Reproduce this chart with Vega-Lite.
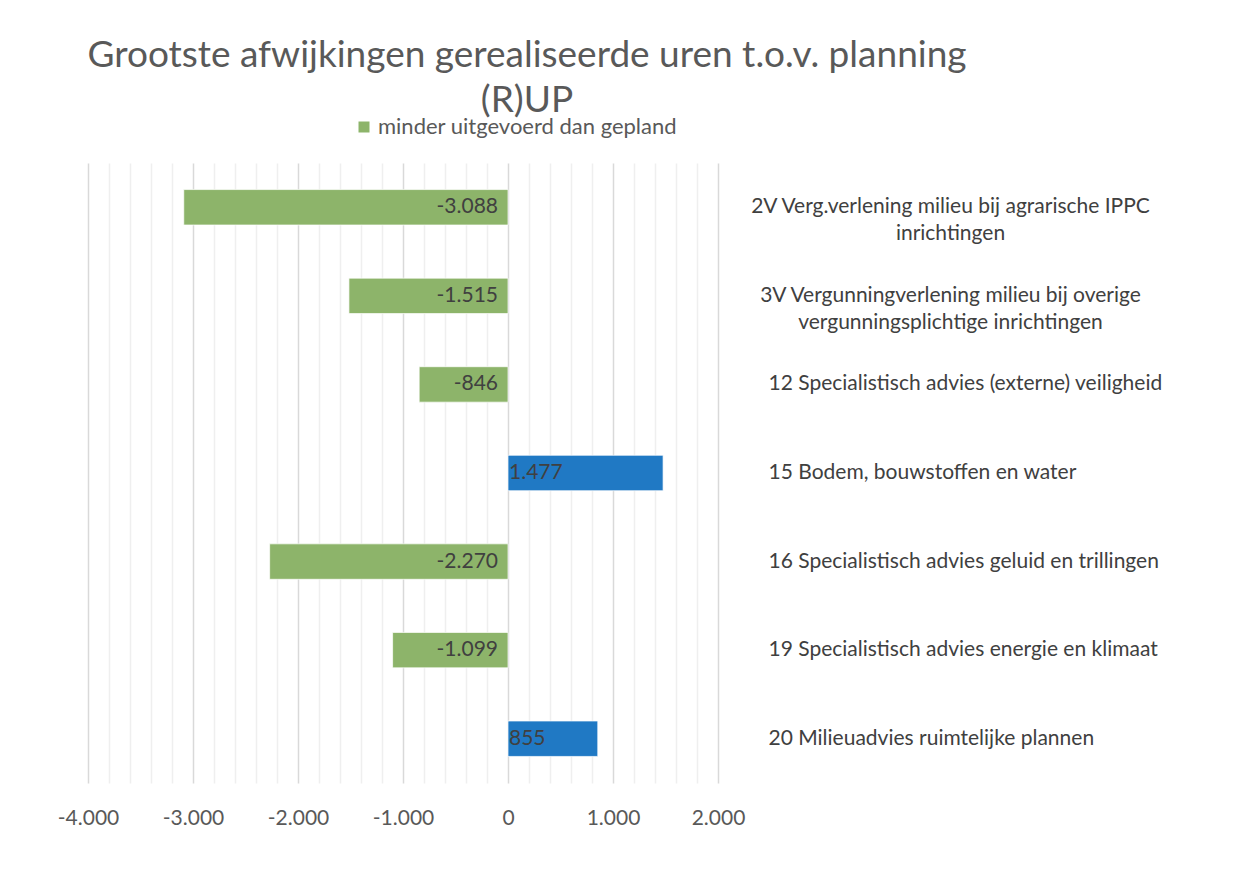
{
  "$schema": "https://vega.github.io/schema/vega-lite/v6.json",
  "autosize": {"type": "none"},
  "width": 630,
  "height": 620,
  "padding": {"left": 88, "top": 163, "right": 539, "bottom": 98},
  "background": "white",
  "config": {
    "locale": {"number": {"decimal": ",", "thousands": ".", "grouping": [3], "currency": ["€", ""], "minus": "-"}},
    "view": {"stroke": null},
    "font": "Lato"
  },
  "title": {
    "text": ["Grootste afwijkingen gerealiseerde uren t.o.v. planning", "(R)UP"],
    "fontSize": 37,
    "fontWeight": "normal",
    "color": "#595959",
    "font": "Lato",
    "lineHeight": 45,
    "anchor": "middle",
    "dx": 124,
    "offset": -4
  },
  "data": {
    "values": [
      {"taak": "2V Verg.verlening milieu bij agrarische IPPC|inrichtingen", "uren": -3088, "reeks": "minder uitgevoerd dan gepland"},
      {"taak": "3V Vergunningverlening milieu bij overige|vergunningsplichtige inrichtingen", "uren": -1515, "reeks": "minder uitgevoerd dan gepland"},
      {"taak": "12 Specialistisch advies (externe) veiligheid", "uren": -846, "reeks": "minder uitgevoerd dan gepland"},
      {"taak": "15 Bodem, bouwstoffen en water", "uren": 1477, "reeks": "meer uitgevoerd dan gepland"},
      {"taak": "16 Specialistisch advies geluid en trillingen", "uren": -2270, "reeks": "minder uitgevoerd dan gepland"},
      {"taak": "19 Specialistisch advies energie en klimaat", "uren": -1099, "reeks": "minder uitgevoerd dan gepland"},
      {"taak": "20 Milieuadvies ruimtelijke plannen", "uren": 855, "reeks": "meer uitgevoerd dan gepland"}
    ]
  },
  "encoding": {
    "y": {
      "field": "taak",
      "type": "nominal",
      "sort": null,
      "scale": {"paddingInner": 0.6, "paddingOuter": 0.3},
      "axis": {
        "orient": "right",
        "title": null,
        "ticks": false,
        "domain": false,
        "grid": false,
        "labelAlign": {"condition": {"test": "indexof(datum.value, '|') >= 0", "value": "center"}, "value": "left"},
        "labelPadding": {"condition": {"test": "indexof(datum.value, '|') >= 0", "value": 232}, "value": 50},
        "labelBaseline": "middle",
        "labelFontSize": 21,
        "labelLineHeight": 27,
        "labelColor": "#404040",
        "labelLimit": 0,
        "labelFont": "Lato",
        "labelExpr": "split(datum.label, '|')"
      }
    }
  },
  "layer": [
    {
      "mark": {"type": "bar", "stroke": "#ffffff", "strokeWidth": 1, "strokeOpacity": 0.7},
      "encoding": {
        "x": {
          "field": "uren",
          "type": "quantitative",
          "scale": {"domain": [-4000, 2000], "nice": false, "zero": false},
          "axis": {
            "title": null,
            "values": [-4000, -3800, -3600, -3400, -3200, -3000, -2800, -2600, -2400, -2200, -2000, -1800, -1600, -1400, -1200, -1000, -800, -600, -400, -200, 0, 200, 400, 600, 800, 1000, 1200, 1400, 1600, 1800, 2000],
            "tickCount": 40,
            "format": ",d",
            "labelExpr": "datum.value % 1000 === 0 ? datum.label : ''",
            "labelOverlap": false,
            "labelFlush": false,
            "ticks": false,
            "domain": false,
            "grid": true,
            "gridColor": {"condition": {"test": "datum.value % 1000 === 0", "value": "#d9d9d9"}, "value": "#efefef"},
            "gridWidth": 1.5,
            "labelFontSize": 21,
            "labelColor": "#595959",
            "labelPadding": 24,
            "labelFont": "Lato"
          }
        },
        "color": {
          "field": "reeks",
          "type": "nominal",
          "scale": {"domain": ["minder uitgevoerd dan gepland", "meer uitgevoerd dan gepland"], "range": ["#8db46a", "#2079c4"]},
          "legend": {
            "values": ["minder uitgevoerd dan gepland"],
            "title": null,
            "orient": "none",
            "legendX": 265,
            "legendY": -47,
            "symbolType": "square",
            "symbolSize": 121,
            "symbolStrokeWidth": 0,
            "labelOffset": 3,
            "labelFontSize": 22,
            "labelColor": "#595959",
            "labelFont": "Lato",
            "labelLimit": 0
          }
        }
      }
    },
    {
      "transform": [{"filter": "datum.uren < 0"}],
      "mark": {"type": "text", "align": "right", "baseline": "middle", "dx": -10, "fontSize": 21, "color": "#404040"},
      "encoding": {
        "x": {"datum": 0, "type": "quantitative"},
        "text": {"field": "uren", "type": "quantitative", "format": ",d"}
      }
    },
    {
      "transform": [{"filter": "datum.uren > 0"}],
      "mark": {"type": "text", "align": "left", "baseline": "middle", "dx": 1, "fontSize": 21, "color": "#404040"},
      "encoding": {
        "x": {"datum": 0, "type": "quantitative"},
        "text": {"field": "uren", "type": "quantitative", "format": ",d"}
      }
    }
  ]
}
